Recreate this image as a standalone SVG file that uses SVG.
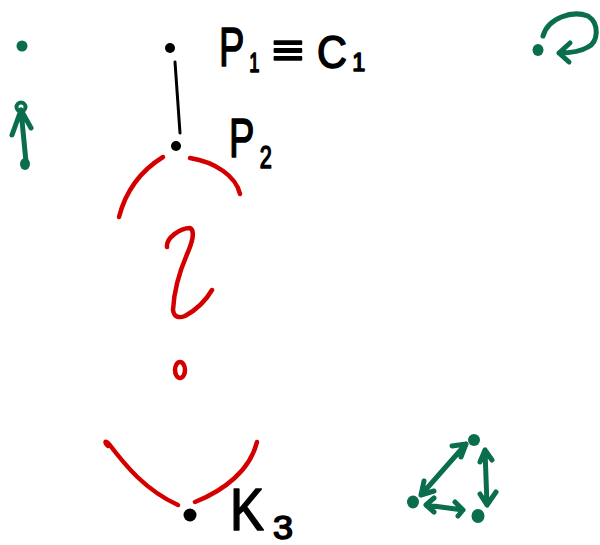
<svg xmlns="http://www.w3.org/2000/svg" width="600" height="545" viewBox="0 0 600 545">
<style>
.g{fill:none;stroke:#0a6e4e;stroke-width:5;stroke-linecap:round;stroke-linejoin:round}
.gd{fill:#0a6e4e}
.r{fill:none;stroke:#d40000;stroke-width:4.5;stroke-linecap:round;stroke-linejoin:round}
.k{fill:none;stroke:#000;stroke-width:3;stroke-linecap:round}
.kd{fill:#000}
.t{font-family:"Liberation Sans","DejaVu Sans",sans-serif;fill:#000;stroke:#000;stroke-width:1.6;stroke-linejoin:round}
</style>
<rect width="600" height="545" fill="#fff"/>
<g id="connectors">
<line class="k" x1="175" y1="62" x2="180" y2="133"/>
<path class="g" d="M26 162 L21 110 M21 110 L12 135 M21 110 L31 128"/>
<path class="g" d="M543 36 C548 18 572 10 588 16 C600 24 598 42 588 47 C580 52 570 53 559 53 M559 53 L570 43 M559 53 L569 62"/>
<path class="g" d="M421 495 L466 444 M466 444 L452 446 M466 444 L461 457 M421 495 L424 481 M421 495 L434 491"/>
<path class="g" d="M485 450 L487 505 M485 450 L480 462 M485 450 L492 460 M487 505 L480 494 M487 505 L496 492"/>
<path class="g" d="M426 505 L463 510 M426 505 L434 498 M426 505 L434 512 M463 510 L455 502 M463 510 L458 516"/>
<path class="r" d="M119 217 C126 190 142 170 163 157"/>
<path class="r" d="M190 158 C215 162 236 176 240 194"/>
<path class="r" d="M167 247 C166 238 180 228 190 228 C194 230 194 238 188 252 C180 270 174 290 173 310 C174 318 180 318 185 316 C196 310 205 302 212 290"/>
<ellipse class="r" cx="180" cy="370" rx="5" ry="8" stroke-width="5"/>
<path class="r" d="M108 446 C104 442 105 440 109 444 C125 465 145 490 178 505"/>
<path class="r" d="M195 502 C225 490 250 470 257 442" stroke-width="5"/>
<circle cx="21" cy="107" r="4.5" fill="none" stroke="#0a6e4e" stroke-width="4"/>
</g>
<g id="n-left-dot"><circle class="gd" cx="22" cy="46" r="5.5"/></g>
<g id="n-arrow-tail"><ellipse class="gd" cx="25" cy="164" rx="5" ry="6"/></g>
<g id="n-loop"><ellipse class="gd" cx="538" cy="50" rx="5.5" ry="6"/></g>
<g id="n-p1"><circle class="kd" cx="170" cy="48" r="5"/>
<text class="t" transform="translate(219 66) scale(0.68 1)" font-size="56">P<tspan dx="7" dy="6" font-size="27">1</tspan></text>
<text class="t" x="272" y="65" font-size="44" textLength="32" lengthAdjust="spacingAndGlyphs">≡</text>
<text class="t" transform="translate(317 68) scale(0.9 1)" font-size="46">C<tspan dx="6" dy="3" font-size="26">1</tspan></text>
</g>
<g id="n-p2"><circle class="kd" cx="176" cy="146" r="5"/>
<text class="t" transform="translate(229 157) scale(0.68 1)" font-size="56">P<tspan dx="8" dy="11" font-size="32">2</tspan></text>
</g>
<g id="n-k3"><circle class="kd" cx="190" cy="515" r="6.5"/>
<text class="t" x="230" y="530" font-size="60" textLength="34" lengthAdjust="spacingAndGlyphs">K</text>
<text class="t" x="273" y="539" font-size="33" textLength="20" lengthAdjust="spacingAndGlyphs">3</text>
</g>
<g id="n-tri-top"><ellipse class="gd" cx="474" cy="440" rx="6" ry="6"/></g>
<g id="n-tri-left"><ellipse class="gd" cx="413" cy="502" rx="6" ry="6.5"/></g>
<g id="n-tri-right"><ellipse class="gd" cx="478" cy="516" rx="6.5" ry="7"/></g>
</svg>
